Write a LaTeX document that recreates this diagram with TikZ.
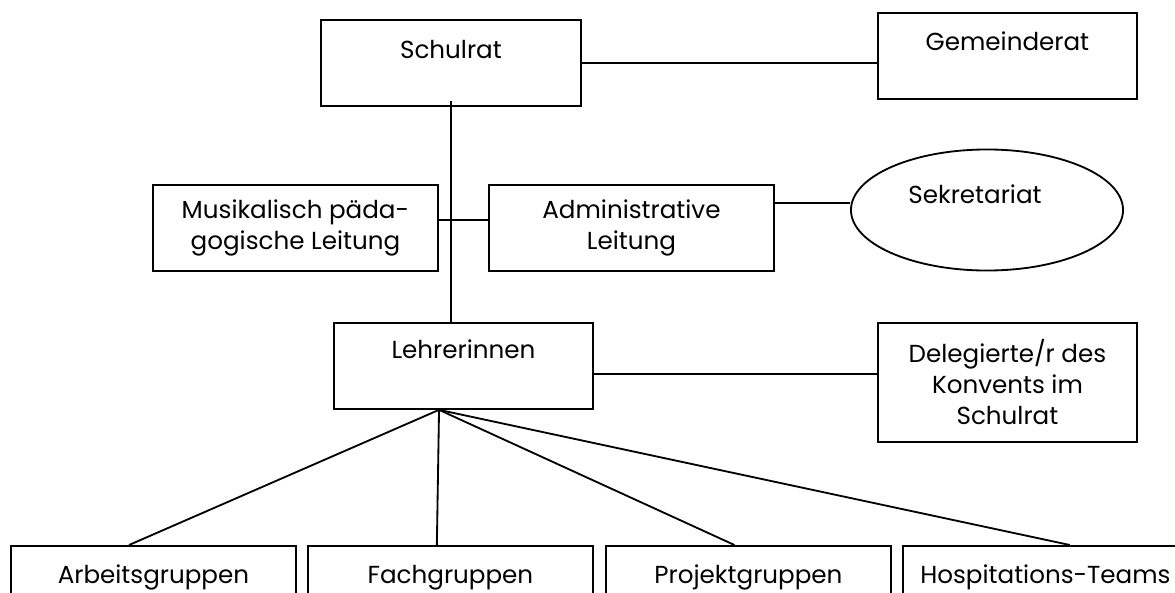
\documentclass[tikz,border=0pt]{standalone}
\usepackage{fontspec}
\setmainfont{Poppins}
\usetikzlibrary{calc,shapes}

\begin{document}
\begin{tikzpicture}[x=0.025cm,y=-0.025cm,line width=1.3pt,
  font=\fontsize{17.5}{22}\selectfont,
  orgbox/.style={draw,rectangle,inner sep=0pt,anchor=north west},
  wordbox/.style={orgbox,align=center,minimum height=2.15cm},
  groupbox/.style={orgbox,minimum width=7.125cm,text height=0.95cm,text depth=1.5cm}]

  \useasboundingbox (0,0) rectangle (1175,592);
  \clip (0,0) rectangle (1175,592);

  % top row
  \node[orgbox,minimum width=6.5cm,text height=0.975cm,text depth=1.175cm] (schulrat) at (320,19) {Schulrat};
  \node[orgbox,minimum width=6.475cm,text height=0.95cm,text depth=1.2cm] (gemeinde) at (877,12) {Gemeinderat};

  % Leitung
  \node[wordbox,minimum width=7.125cm] (musik) at (152,184) {Musikalisch päda-\\gogische Leitung};
  \node[wordbox,minimum width=7.125cm] (admin) at (488,184) {Administrative\\Leitung};
  \node[draw,ellipse,inner sep=0pt,minimum width=6.8cm,minimum height=3.025cm,
        text height=0.45cm,text depth=0.8cm] (sekr) at (987,210) {Sekretariat\hspace*{0.6cm}};

  % Konvent
  \node[orgbox,minimum width=6.475cm,text height=0.9cm,text depth=1.25cm] (lehrer) at (333,322) {Lehrerinnen};
  \node[orgbox,align=center,minimum width=6.475cm,minimum height=2.975cm] (deleg) at (877,322) {Delegierte/r des\\Konvents im\\Schulrat};

  % groups
  \node[groupbox] (arbeit) at (10,545) {Arbeitsgruppen};
  \node[groupbox] (fach) at (307,545) {Fachgruppen};
  \node[groupbox] (projekt) at (605,545) {Projektgruppen};
  \node[groupbox] (hospit) at (902,545) {Hospitations-Teams};

  \draw (schulrat.east) -- (schulrat.east -| gemeinde.west);
  \draw ([yshift=0.15cm]schulrat.south) -- (schulrat.south |- lehrer.north);
  \draw ([yshift=0.2cm]musik.east) -- ([yshift=0.2cm]musik.east -| admin.west);
  \draw ([yshift=0.625cm]admin.east) -- ([yshift=0.625cm]admin.east -| sekr.west);
  \draw ([yshift=-0.2cm]lehrer.east) -- ([yshift=-0.2cm]lehrer.east -| deleg.west);

  \coordinate (fan) at ([xshift=-0.61cm]lehrer.south);
  \draw (fan) -- ([xshift=-0.61cm]arbeit.north);
  \draw (fan) -- ([xshift=-0.34cm]fach.north);
  \draw (fan) -- ([xshift=-0.35cm]projekt.north);
  \draw (fan) -- ([xshift=0.61cm]hospit.north);

\end{tikzpicture}
\end{document}
